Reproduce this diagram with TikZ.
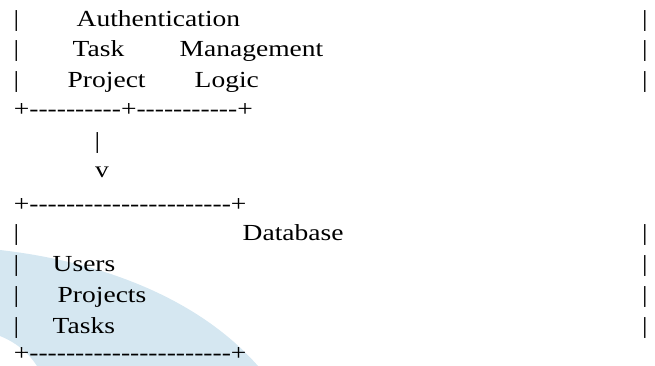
\documentclass[tikz,border=0pt]{standalone}
\usepackage{fontspec}
\newfontfamily\asciifont{Liberation Serif}[FakeStretch=1.196,Ligatures=TeXOff]
\definecolor{wmblue}{HTML}{D5E7F1}

\begin{document}
\begin{tikzpicture}[x=1pt,y=-1pt,
    txt/.style={inner sep=0pt,anchor=base west,font=\asciifont\fontsize{23}{27}\selectfont}]
    \useasboundingbox (0,0) rectangle (655,366);
    \fill[wmblue] (0,250) .. controls (105,262) and (200,300) .. (258,366) -- (37,366) .. controls (28,352) and (15,342) .. (0,336) -- cycle;
    % side bars
    \foreach \y/\n in {26.5/1,56.5/2,87.5/3,240.5/4,271.5/5,302.5/6,333.5/7} {
        \node[txt] (bl\n) at (13.3,\y) {|};
        \node[txt] (br\n) at (642,\y) {|};
    }
    % upper box
    \node[txt] (auth) at (76.5,26.5) {Authentication};
    \node[txt] (task) at (72.5,56.5) {Task};
    \node[txt] (mgmt) at (179.5,56.5) {Management};
    \node[txt] (proj) at (67.5,87.5) {Project};
    \node[txt] (logic) at (194.5,87.5) {Logic};
    \node[txt] (apibot) at (13.7,117) {+----------+-----------+};
    % arrow down
    \node[txt] (stem) at (94.3,149) {|};
    \node[txt] (head) at (95,178) {v};
    % database box
    \node[txt] (dbtop) at (13.7,211) {+----------------------+};
    \node[txt] (db) at (242.5,240.5) {Database};
    \node[txt] (users) at (52.5,271.5) {Users};
    \node[txt] (projs) at (57.5,302.5) {Projects};
    \node[txt] (tasks) at (52.5,333.5) {Tasks};
    \node[txt,text depth=0pt] (dbbot) at (13.7,360) {+----------------------+};
\end{tikzpicture}
\end{document}
